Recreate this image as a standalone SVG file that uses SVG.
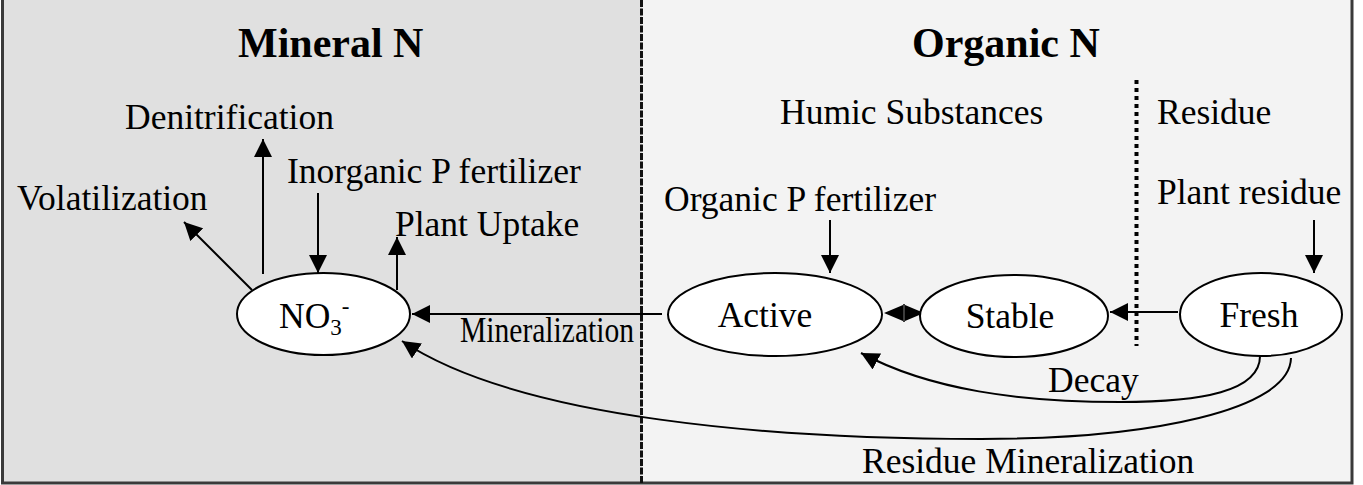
<svg xmlns="http://www.w3.org/2000/svg" width="1363" height="485" viewBox="0 0 1363 485">
<style>
text{font-family:"Liberation Serif","Times New Roman",serif;fill:#000;font-size:35.5px}
.h{font-weight:bold;font-size:42px}
.node ellipse{fill:#fff;stroke:#000;stroke-width:2}
.ln{fill:none;stroke:#000;stroke-width:2}
</style>
<defs>
<marker id="ah" markerUnits="userSpaceOnUse" markerWidth="20" markerHeight="18" refX="18" refY="9" orient="auto">
<path d="M0,0 L18,9 L0,18 z" fill="#000"/>
</marker>
</defs>
<g id="background">
<rect x="0" y="0" width="1363" height="485" fill="#fff"/>
<rect x="2" y="0" width="640" height="483" fill="#e0e0e0"/>
<rect x="642" y="0" width="710" height="483" fill="#f3f3f3"/>
<path d="M2.5,0 V483 H1352 V0" fill="none" stroke="#3a3a3a" stroke-width="3"/>
<line x1="641.5" y1="0" x2="641.5" y2="483" stroke="#111" stroke-width="3" stroke-dasharray="7,1.5"/>
<line x1="1136.5" y1="80" x2="1136.5" y2="346" stroke="#000" stroke-width="4" stroke-dasharray="4,4"/>
</g>
<g id="labels">
<text class="h" x="238" y="57">Mineral N</text>
<text class="h" x="912" y="57">Organic N</text>
<text x="125" y="129">Denitrification</text>
<text x="287" y="183">Inorganic P fertilizer</text>
<text x="17" y="210">Volatilization</text>
<text x="395" y="236">Plant Uptake</text>
<text x="780" y="124">Humic Substances</text>
<text x="1157" y="124">Residue</text>
<text x="664" y="211">Organic P fertilizer</text>
<text x="1157" y="204">Plant residue</text>
<text x="460" y="342" font-size="26" textLength="174" lengthAdjust="spacingAndGlyphs">Mineralization</text>
<text x="1048" y="392">Decay</text>
<text x="862" y="473">Residue Mineralization</text>
</g>
<g id="connectors">
<line class="ln" x1="252" y1="290" x2="184" y2="222" marker-end="url(#ah)"/>
<line class="ln" x1="263" y1="274" x2="263" y2="139" marker-end="url(#ah)"/>
<line class="ln" x1="318" y1="193" x2="318" y2="273" marker-end="url(#ah)"/>
<line class="ln" x1="397" y1="290" x2="397" y2="237" marker-end="url(#ah)"/>
<line class="ln" x1="830" y1="220" x2="830" y2="273" marker-end="url(#ah)"/>
<line class="ln" x1="1314" y1="220" x2="1314" y2="273" marker-end="url(#ah)"/>
<line class="ln" x1="662" y1="314" x2="412" y2="314" marker-end="url(#ah)"/>
<path d="M884,313 L903,305 L903,321 z M924,313 L905,305 L905,321 z" fill="#000"/>
<line x1="904" y1="304" x2="904" y2="322" stroke="#000" stroke-width="1.5"/>
<line class="ln" x1="1178" y1="312" x2="1110" y2="312" marker-end="url(#ah)"/>
<path class="ln" d="M1260,354 C1262,392 1200,402 1120,402 C1020,402 930,390 861,353" marker-end="url(#ah)"/>
<path class="ln" d="M1291,358 C1290,410 1150,439 981,439 C780,439 520,420 402,341" marker-end="url(#ah)"/>
</g>
<g id="node-no3" class="node">
<ellipse cx="323.5" cy="314" rx="86.5" ry="41"/>
<text x="279" y="328">NO<tspan font-size="23" dy="7">3</tspan><tspan font-size="23" dy="-21">-</tspan></text>
</g>
<g id="node-active" class="node">
<ellipse cx="775" cy="314.5" rx="107" ry="41.5"/>
<text x="765" y="327" text-anchor="middle">Active</text>
</g>
<g id="node-stable" class="node">
<ellipse cx="1014" cy="316" rx="94" ry="41"/>
<text x="1010" y="328" text-anchor="middle">Stable</text>
</g>
<g id="node-fresh" class="node">
<ellipse cx="1261" cy="314.5" rx="81" ry="41.5"/>
<text x="1259" y="327" text-anchor="middle">Fresh</text>
</g>
</svg>
